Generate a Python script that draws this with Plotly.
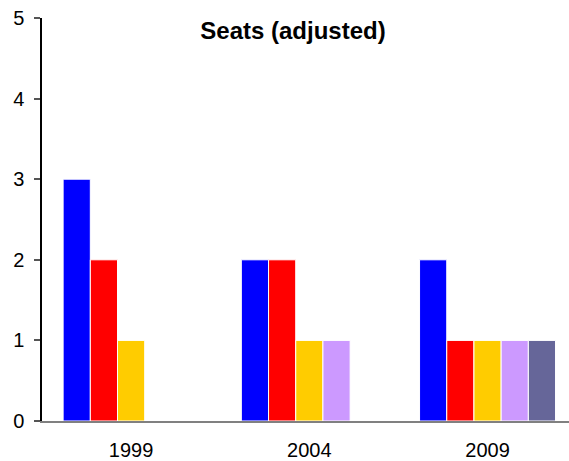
import plotly.graph_objects as go

years = ["1999", "2004", "2009"]
series_names = ["Party A", "Party B", "Party C", "Party D", "Party E"]
series_values = [
    [3, 2, 2],
    [2, 2, 1],
    [1, 1, 1],
    [0, 1, 1],
    [0, 0, 1],
]
colors = ["#0000FF", "#FF0000", "#FFCC00", "#CC99FF", "#666699"]
y_ticks = [0, 1, 2, 3, 4, 5]

fig = go.Figure()
for name, vals, col in zip(series_names, series_values, colors):
    fig.add_trace(go.Bar(
        x=years, y=vals, name=name,
        marker=dict(color=col, line=dict(color="white", width=1)),
    ))

fig.update_layout(
    width=569, height=461,
    barmode="group", bargap=0.237, bargroupgap=0,
    plot_bgcolor="white", paper_bgcolor="white",
    showlegend=False,
    margin=dict(l=42, r=0, t=18, b=36),
    font=dict(family="Liberation Sans, Arial", size=20, color="black"),
    title=dict(text="<b>Seats (adjusted)</b>", x=293/569, xref="container", xanchor="center",
               y=1 - 31/461, yref="container", yanchor="middle",
               font=dict(size=24, family="Liberation Sans, Arial", color="black")),
)
fig.update_xaxes(
    type="category", range=[-0.5, 2.457],
    showline=True, linecolor="#808080", linewidth=2,
    ticks="", showgrid=False, tickfont=dict(size=20), ticklabelstandoff=10,
)
fig.update_yaxes(
    range=[0, 5], tickvals=y_ticks,
    showline=True, linecolor="black", linewidth=1.5,
    ticks="outside", ticklen=6, tickcolor="#555555", tickwidth=1.5,
    showgrid=False, zeroline=False, tickfont=dict(size=20), ticklabelstandoff=6,
)

fig.write_html("out.html", config={"displayModeBar": False},
               post_script="document.body.style.margin='0';")
